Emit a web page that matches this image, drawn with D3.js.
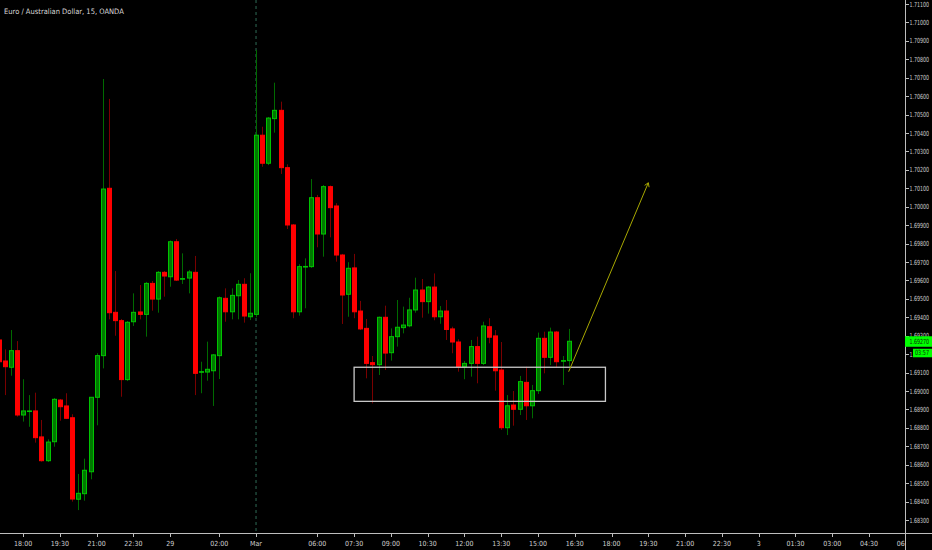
<!DOCTYPE html>
<html>
<head>
<meta charset="utf-8">
<script src="https://cdn.jsdelivr.net/npm/d3@7"></script>
<style>
html,body{margin:0;padding:0;background:#000;}
svg{display:block;}
text{font-family:'Liberation Sans Narrow','Arial Narrow','DejaVu Sans Condensed',sans-serif;}
</style>
</head>
<body>
<svg id="chart" width="932" height="550"></svg>
<script>
// ---- DATA (EUR/AUD 15-minute candles, index = bar number) ----
const title = "Euro / Australian Dollar, 15, OANDA";
const barIndex = d3.range(-1, 93);
const open  = [1.69277,1.69163,1.69129,1.69219,1.68870,1.68892,1.68892,1.68751,1.68622,1.68725,1.68951,1.68919,1.68855,1.68413,1.68443,1.68562,1.68966,1.69192,1.70100,1.69427,1.69382,1.69062,1.69376,1.69429,1.69416,1.69584,1.69499,1.69644,1.69620,1.69810,1.69610,1.69613,1.69644,1.69105,1.69103,1.69110,1.69192,1.69503,1.69430,1.69517,1.69579,1.69403,1.69416,1.70388,1.70236,1.70478,1.70523,1.70212,1.69901,1.69430,1.69676,1.69675,1.70049,1.69852,1.70109,1.70004,1.69738,1.69525,1.69668,1.69434,1.69340,1.69154,1.69143,1.69400,1.69208,1.69295,1.69344,1.69354,1.69440,1.69548,1.69485,1.69564,1.69403,1.69434,1.69337,1.69266,1.69132,1.69150,1.69241,1.69150,1.69349,1.69299,1.69114,1.68801,1.68924,1.68901,1.69047,1.68920,1.69002,1.69286,1.69183,1.69320,1.69165,1.69165];
const high  = [1.69342,1.69226,1.69331,1.69271,1.69064,1.68978,1.68991,1.68843,1.68738,1.68962,1.68957,1.68988,1.68874,1.68550,1.68633,1.68966,1.69205,1.70693,1.70585,1.69651,1.69391,1.69380,1.69530,1.69575,1.69592,1.69597,1.69651,1.69651,1.69817,1.69825,1.69747,1.69657,1.69733,1.69159,1.69268,1.69201,1.69513,1.69557,1.69557,1.69602,1.69612,1.69639,1.70850,1.70434,1.70487,1.70673,1.70570,1.70230,1.69906,1.69688,1.69720,1.70150,1.70064,1.70118,1.70115,1.70019,1.69744,1.69699,1.69744,1.69489,1.69391,1.69190,1.69404,1.69463,1.69340,1.69494,1.69458,1.69506,1.69615,1.69608,1.69570,1.69638,1.69461,1.69494,1.69349,1.69281,1.69163,1.69277,1.69295,1.69376,1.69395,1.69331,1.69266,1.68978,1.69000,1.69082,1.69132,1.69033,1.69317,1.69322,1.69344,1.69326,1.69190,1.69337];
const low   = [1.69125,1.68978,1.69083,1.68861,1.68834,1.68806,1.68720,1.68617,1.68615,1.68698,1.68839,1.68848,1.68400,1.68354,1.68405,1.68521,1.68814,1.69123,1.69389,1.69300,1.68969,1.69054,1.69353,1.69389,1.69295,1.69436,1.69425,1.69512,1.69566,1.69597,1.69581,1.69530,1.68978,1.68988,1.69056,1.68919,1.69065,1.69376,1.69389,1.69389,1.69371,1.69385,1.69400,1.70217,1.70226,1.70402,1.70178,1.69879,1.69395,1.69409,1.69449,1.69668,1.69780,1.69729,1.69834,1.69702,1.69364,1.69403,1.69395,1.69331,1.69069,1.68933,1.69087,1.69114,1.69165,1.69241,1.69313,1.69346,1.69425,1.69398,1.69420,1.69384,1.69365,1.69277,1.69205,1.69105,1.69064,1.69078,1.69042,1.69141,1.69259,1.69002,1.68789,1.68761,1.68812,1.68870,1.68843,1.68852,1.68984,1.69096,1.69141,1.69129,1.69033,1.69132];
const close = [1.69159,1.69132,1.69219,1.68870,1.68892,1.68892,1.68747,1.68622,1.68723,1.68955,1.68915,1.68852,1.68414,1.68445,1.68570,1.68966,1.69192,1.70096,1.69425,1.69382,1.69062,1.69373,1.69427,1.69416,1.69584,1.69499,1.69644,1.69624,1.69810,1.69602,1.69610,1.69646,1.69096,1.69105,1.69118,1.69196,1.69506,1.69430,1.69519,1.69579,1.69407,1.69422,1.70388,1.70236,1.70481,1.70523,1.70212,1.69901,1.69430,1.69675,1.69676,1.70049,1.69852,1.70109,1.69995,1.69738,1.69521,1.69666,1.69430,1.69337,1.69150,1.69143,1.69400,1.69206,1.69295,1.69346,1.69358,1.69440,1.69548,1.69485,1.69564,1.69403,1.69434,1.69334,1.69266,1.69132,1.69150,1.69241,1.69150,1.69353,1.69292,1.69110,1.68801,1.68920,1.68901,1.69051,1.68920,1.69002,1.69286,1.69183,1.69320,1.69159,1.69165,1.69270];

const priceTicks = d3.range(1.683, 1.7115, 0.001);
const timeTickIndex = [3,9,15,21,27,35,41,51,57,63,69,75,81,87,93,99,105,111,117,123,129,135,141,147];
const timeTickLabel = ["18:00","19:30","21:00","22:30","29","02:00","Mar","06:00","07:30","09:00","10:30","12:00","13:30","15:00","16:30","18:00","19:30","21:00","22:30","3","01:30","03:00","04:30","06:00"];
const sessionBreakIndex = 41;
const zoneIndex = [57, 98];
const zonePrice = [1.69129, 1.68944];
const arrowIndex = [92, 105];
const arrowPrice = [1.69105, 1.70130];
const countdown = "03:57";

// ---- LAYOUT ----
const W = 932, H = 550, plotR = 905, plotB = 533;
const svg = d3.select("#chart");
svg.append("rect").attr("width", W).attr("height", H).attr("fill", "#000");

const x = d3.scaleLinear().domain([0, 147]).range([4.7, 905.8]);
const y = d3.scaleLinear().domain([1.683, 1.711]).range([520.04, 4]);

const defs = svg.append("defs");
defs.append("clipPath").attr("id", "plotclip").append("rect").attr("x", 0).attr("y", 0).attr("width", plotR).attr("height", plotB);
defs.append("clipPath").attr("id", "xclip").append("rect").attr("x", 0).attr("y", plotB).attr("width", plotR).attr("height", H - plotB);

const plot = svg.append("g").attr("clip-path", "url(#plotclip)");

// session break
plot.append("line")
  .attr("x1", x(sessionBreakIndex)).attr("x2", x(sessionBreakIndex))
  .attr("y1", 0).attr("y2", plotB)
  .attr("stroke", "#2f6a56").attr("stroke-width", 1).attr("stroke-dasharray", "3,3");

const candles = barIndex.map((b, k) => ({b, o: open[k], h: high[k], l: low[k], c: close[k]}));
const up = d => d.c >= d.o;

// wicks
plot.append("g").selectAll("line").data(candles).join("line")
  .attr("x1", d => Math.round(x(d.b)) + 0.5).attr("x2", d => Math.round(x(d.b)) + 0.5)
  .attr("y1", d => y(d.h)).attr("y2", d => y(d.l))
  .attr("stroke", d => up(d) ? "#006a00" : "#7a0000").attr("stroke-width", 1);

// bodies
plot.append("g").selectAll("rect").data(candles).join("rect")
  .attr("x", d => Math.round(x(d.b)) - 1.5)
  .attr("width", 4)
  .attr("y", d => y(Math.max(d.o, d.c)))
  .attr("height", d => Math.max(0.6, y(Math.min(d.o, d.c)) - y(Math.max(d.o, d.c))))
  .attr("fill", d => up(d) ? "#007800" : "#ff0000")
  .attr("stroke", d => up(d) ? "#00c400" : "#ff0000")
  .attr("stroke-width", 1);

// zone rectangle
plot.append("rect")
  .attr("x", x(zoneIndex[0])).attr("y", y(zonePrice[0]))
  .attr("width", x(zoneIndex[1]) - x(zoneIndex[0]))
  .attr("height", y(zonePrice[1]) - y(zonePrice[0]))
  .attr("fill", "none").attr("stroke", "#c8c8c8").attr("stroke-width", 1.3);

// arrow
const ax0 = x(arrowIndex[0]), ay0 = y(arrowPrice[0]), ax1 = x(arrowIndex[1]), ay1 = y(arrowPrice[1]);
plot.append("line").attr("x1", ax0).attr("y1", ay0).attr("x2", ax1).attr("y2", ay1)
  .attr("stroke", "#a8a800").attr("stroke-width", 1);
const ang = Math.atan2(ay1 - ay0, ax1 - ax0), hl = 4.5;
[Math.PI * 0.82, -Math.PI * 0.82].forEach(a => {
  plot.append("line").attr("x1", ax1).attr("y1", ay1)
    .attr("x2", ax1 + hl * Math.cos(ang + a)).attr("y2", ay1 + hl * Math.sin(ang + a))
    .attr("stroke", "#a8a800").attr("stroke-width", 1);
});

// title
svg.append("text").attr("x", 4).attr("y", 14).attr("fill", "#d8d8d8")
  .attr("font-size", 7.5).text(title);

// ---- X AXIS ----
svg.append("line").attr("x1", 0).attr("x2", W).attr("y1", plotB + 0.5).attr("y2", plotB + 0.5)
  .attr("stroke", "#bdbdbd").attr("stroke-width", 1);
const xg = svg.append("g").attr("clip-path", "url(#xclip)");
xg.selectAll("line").data(timeTickIndex).join("line")
  .attr("x1", d => Math.round(x(d)) + 0.5).attr("x2", d => Math.round(x(d)) + 0.5)
  .attr("y1", plotB).attr("y2", plotB + 4)
  .attr("stroke", "#bdbdbd");
xg.selectAll("text").data(timeTickIndex).join("text")
  .attr("x", d => x(d)).attr("y", 546)
  .attr("text-anchor", "middle").attr("fill", "#d0d0d0").attr("font-size", 7)
  .text((d, k) => timeTickLabel[k]);

// ---- Y AXIS ----
svg.append("rect").attr("x", plotR).attr("y", 0).attr("width", W - plotR).attr("height", plotB).attr("fill", "#000");
svg.append("line").attr("x1", plotR + 0.5).attr("x2", plotR + 0.5).attr("y1", 0).attr("y2", H)
  .attr("stroke", "#bdbdbd").attr("stroke-width", 1);
const yg = svg.append("g");
yg.selectAll("line").data(priceTicks).join("line")
  .attr("x1", plotR).attr("x2", plotR + 4)
  .attr("y1", d => Math.round(y(d)) + 0.5).attr("y2", d => Math.round(y(d)) + 0.5)
  .attr("stroke", "#bdbdbd");
yg.selectAll("text").data(priceTicks).join("text")
  .attr("x", plotR + 4.5).attr("y", d => y(d) + 2.5)
  .attr("fill", "#d0d0d0").attr("font-size", 7)
  .attr("textLength", 19.5).attr("lengthAdjust", "spacingAndGlyphs")
  .text(d => d3.format(".5f")(d));

// price label
const lastC = close[close.length - 1];
const ly = y(lastC);
svg.append("rect").attr("x", plotR).attr("y", ly - 5).attr("width", W - plotR).attr("height", 10.5).attr("fill", "#00ff00");
svg.append("text").attr("x", plotR + 4.5).attr("y", ly + 2.5).attr("fill", "#0a2a0a").attr("font-size", 7)
  .attr("textLength", 19.5).attr("lengthAdjust", "spacingAndGlyphs")
  .text(d3.format(".5f")(lastC));
svg.append("rect").attr("x", plotR + 8).attr("y", ly + 7.5).attr("width", W - plotR - 8).attr("height", 8.5).attr("fill", "#00ff00");
svg.append("text").attr("x", plotR + 10).attr("y", ly + 14.2).attr("fill", "#0a2a0a").attr("font-size", 7)
  .attr("textLength", 14).attr("lengthAdjust", "spacingAndGlyphs")
  .text(countdown);
</script>
</body>
</html>
